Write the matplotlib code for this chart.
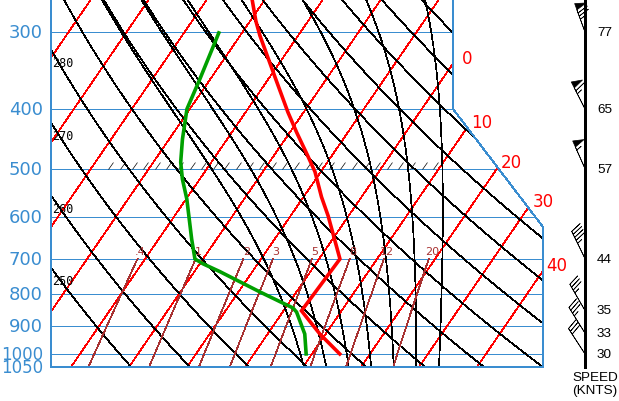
import numpy as np
import matplotlib
matplotlib.use('Agg')
import matplotlib.pyplot as plt
from matplotlib.patches import Polygon
from matplotlib.path import Path

# ---------------- data ----------------
temp_p = [1000, 928, 851, 701, 597, 556, 506, 477, 436, 405, 355, 304, 288, 265]
temp_c = [14.8, 9.0, 3.1, 3.6, -3.5, -6.9, -11.0, -14.1, -18.9, -22.7, -29.1, -36.6, -39.0, -42.3]
dewp_p = [1000, 928, 855, 842, 793, 735, 714, 701, 651, 560, 520, 488, 448, 400, 358, 301]
dewp_c = [9.0, 6.4, 2.4, 1.3, -6.3, -15.6, -19.4, -21.4, -24.3, -29.9, -33.0, -35.3, -37.7, -40.5, -41.8, -44.0]
wind_p = [300, 400, 500, 700, 850, 925, 1000]
wind_kt = [77, 65, 57, 44, 35, 33, 30]
wind_dir = [340, 333, 336, 334, 330, 328, 327]
pressure_levels = [300, 400, 500, 600, 700, 800, 900, 1000, 1050]
pressure_labels = ['300', '400', '500', '600', '700', '800', '900', '1000', '1050']
isotherm_c = list(range(-130, 50, 10))
isotherm_labels = [0, 10, 20, 30, 40]
dry_theta_k = list(range(250, 420, 10))
dry_labels = [250, 260, 270, 280]
moist_thetaw_c = [8, 12, 16, 20, 24, 28, 32]
mix_gkg = [0.4, 1, 2, 3, 5, 8, 12, 20]
mix_labels = ['.4', '1', '2', '3', '5', '8', '12', '20']
hatch_c = list(range(-47, 10, 2))   # tick marks along 500 hPa

# ---------------- geometry ----------------
W, H, DPI = 619, 402, 100
P_BOT = 1050.0
SKEW = 31.6          # deg C per ln(p)
PX_PER_C = 5.8
PX_PER_LN = 267.4
X0_PX = 245.0
YBOT_PX = 368.0
XL, XR1, XR2 = -33.45, 35.86, 51.38
PB1, PB2 = 400.0, 622.0
X_BARB = 58.62

BLUE = '#3a8dd0'
BROWN = '#a83232'
THIN = 0.5


def skx(T, p):
    return np.asarray(T, float) + SKEW * np.log(P_BOT / np.asarray(p, float))


def right_edge(p):
    p = np.asarray(p, float)
    f = (np.log(p) - np.log(PB1)) / (np.log(PB2) - np.log(PB1))
    return np.where(p <= PB1, XR1, np.where(p >= PB2, XR2, XR1 + (XR2 - XR1) * f))


fig = plt.figure(figsize=(W / DPI, H / DPI), dpi=DPI)
ax = fig.add_axes([0, 0, 1, 1])
ax.set_yscale('log')
ax.set_xlim((0 - X0_PX) / PX_PER_C, (W - X0_PX) / PX_PER_C)
ax.set_ylim(P_BOT * np.exp((H - YBOT_PX) / PX_PER_LN), P_BOT * np.exp(-YBOT_PX / PX_PER_LN))
ax.axis('off')

region = [(XL, 150), (XR1, 150), (XR1, PB1), (XR2, PB2), (XR2, P_BOT), (XL, P_BOT)]
clip = Polygon(region, closed=True, fill=False, edgecolor='none')
ax.add_patch(clip)


def cplot(x, y, **kw):
    ln, = ax.plot(x, y, **kw)
    ln.set_clip_path(clip)
    return ln


pp = np.exp(np.linspace(np.log(1050), np.log(150), 400))

# pressure lines
for p in pressure_levels:
    cplot([XL, XR2 + 5], [p, p], color=BLUE, lw=0.7, antialiased=False, zorder=2)

# isotherms
for T in isotherm_c:
    cplot(skx([T, T], [1050, 150]), [1050, 150], color='red', lw=THIN, antialiased=False, zorder=2)
for T in isotherm_labels:
    xs = skx(T, pp)
    idx = np.argmax(xs > right_edge(pp))
    off = (19, 1) if xs[idx] <= XR1 + 0.01 else (14, 5.5)
    ax.annotate(str(T), xy=(xs[idx], pp[idx]), xytext=off, textcoords='offset pixels',
                ha='center', va='center', color='red', fontsize=12)

# dry adiabats
for th in dry_theta_k:
    Tk = th * (pp / 1000.0) ** 0.286
    cplot(skx(Tk - 273.15, pp), pp, color='black', lw=THIN, antialiased=False, zorder=2)
for th in dry_labels:
    Tk = th * (pp / 1000.0) ** 0.286
    xs = skx(Tk - 273.15, pp)
    idx = np.argmax(xs < XL)
    ax.annotate(str(th), xy=(XL, pp[idx]), xytext=(1, -14), textcoords='offset pixels',
                ha='left', va='center', color='black', fontsize=8.5, family='DejaVu Sans Mono')

# moist adiabats
Rd, cp, Lv, eps = 287.04, 1005.7, 2.501e6, 0.622


def es(Tk):
    return 6.112 * np.exp(17.67 * (Tk - 273.15) / (Tk - 29.65))


def dTdp(Tk, p):
    e = es(Tk)
    rs = eps * e / (p - e)
    return (Rd * Tk + Lv * rs) / (p * (cp + Lv ** 2 * rs * eps / (Rd * Tk ** 2)))


def integrate(thw, path):
    T = thw + 273.15
    Ts = [T]
    for i in range(1, len(path)):
        p0, h = path[i - 1], path[i] - path[i - 1]
        k1 = dTdp(T, p0)
        k2 = dTdp(T + 0.5 * h * k1, p0 + 0.5 * h)
        k3 = dTdp(T + 0.5 * h * k2, p0 + 0.5 * h)
        k4 = dTdp(T + h * k3, p0 + h)
        T = T + h * (k1 + 2 * k2 + 2 * k3 + k4) / 6
        Ts.append(T)
    return np.array(Ts)


def moist_profile(thw):
    up = np.exp(np.linspace(np.log(1000), np.log(150), 300))
    dn = np.exp(np.linspace(np.log(1000), np.log(1050), 20))
    Tu, Td = integrate(thw, up), integrate(thw, dn)
    P = np.concatenate([dn[::-1], up[1:]])
    T = np.concatenate([Td[::-1], Tu[1:]])
    return P, T - 273.15


for thw in moist_thetaw_c:
    P, T = moist_profile(thw)
    cplot(skx(T, P), P, color='black', lw=THIN, antialiased=False, zorder=2)

# mixing ratio lines
pm = np.linspace(1050, 700, 50)
for w, lab in zip(mix_gkg, mix_labels):
    e = w * pm / (622.0 + w)
    l = np.log(e / 6.112)
    Td = 243.5 * l / (17.67 - l)
    cplot(skx(Td, pm), pm, color=BROWN, lw=THIN, antialiased=False, zorder=2)
    ax.annotate(lab, xy=(skx(Td[-1], 700), 700), xytext=(3, 8), textcoords='offset pixels',
                ha='center', va='center', color=BROWN, fontsize=8)

# hatch ticks on 500 hPa
tick = Path([(0, 0), (5, 7)], [Path.MOVETO, Path.LINETO])
ax.plot(skx(hatch_c, 500), [500] * len(hatch_c), ls='none', marker=tick, ms=10,
        mec='black', mew=0.5, zorder=3)

# border
bx = [XL, XL, XR2, XR2, XR1, XR1]
by = [150, P_BOT, P_BOT, PB2, PB1, 150]
ax.plot(bx, by, color=BLUE, lw=0.7, antialiased=False, zorder=4)

# pressure labels
for p, lab in zip(pressure_levels, pressure_labels):
    ax.annotate(lab, xy=(XL, p), xytext=(-8, 0), textcoords='offset pixels',
                ha='right', va='center', color=BLUE, fontsize=13 if len(lab) < 4 else 12)

# profiles
ax.plot(skx(temp_c, temp_p), temp_p, color='red', lw=2.6, zorder=5, solid_joinstyle='miter')
ax.plot(skx(dewp_c, dewp_p), dewp_p, color='#00a000', lw=2.6, zorder=5, solid_joinstyle='miter')

# winds
ax.plot([X_BARB, X_BARB], [150, P_BOT], color='black', lw=0.9, antialiased=False)
d = np.radians(wind_dir)
spd = np.array(wind_kt, float)
u = -spd * np.sin(d)
v = -spd * np.cos(d)
ax.barbs([X_BARB] * len(wind_p), wind_p, u, v, length=6.6, lw=0.5, color='black', zorder=6,
         sizes=dict(spacing=0.11, height=0.36, width=0.22))
for p, s in zip(wind_p, wind_kt):
    ax.annotate(str(s), xy=(X_BARB, p), xytext=(12, 0), textcoords='offset pixels',
                ha='left', va='center', color='black', fontsize=9.7, family='Liberation Sans')
ax.annotate('SPEED', xy=(X_BARB, P_BOT), xytext=(10, -10), textcoords='offset pixels',
            ha='center', va='center', fontsize=9.7, family='Liberation Sans')
ax.annotate('(KNTS)', xy=(X_BARB, P_BOT), xytext=(10, -23), textcoords='offset pixels',
            ha='center', va='center', fontsize=9.7, family='Liberation Sans')

fig.savefig('out.png', dpi=DPI)
